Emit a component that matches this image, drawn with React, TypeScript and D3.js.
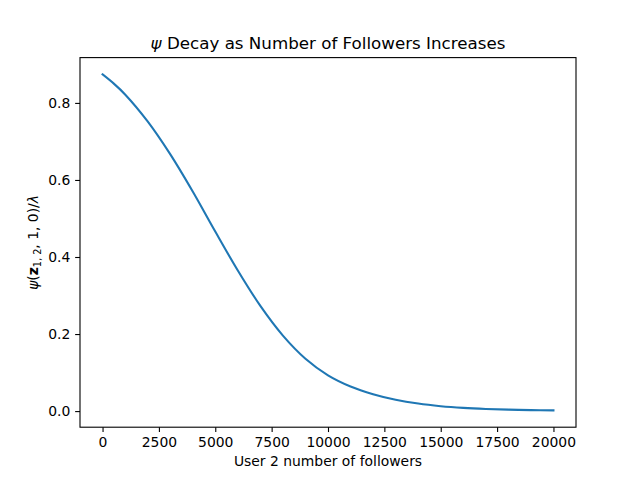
import { useEffect, useRef } from 'react';
import * as d3 from 'd3';

// values
const followers = [
  0, 500, 1000, 2000, 3000, 4000, 5000, 6000, 7000, 8000, 9000, 10000,
  11000, 12000, 13000, 14000, 15000, 16000, 17000, 18000, 19000, 20000,
];
const psiValues = [
  0.874, 0.85, 0.822, 0.752, 0.667, 0.57, 0.466, 0.365, 0.273, 0.196, 0.136, 0.093,
  0.064, 0.044, 0.0295, 0.0195, 0.0128, 0.0084, 0.0056, 0.0038, 0.0026, 0.0018,
];
const xTicks = [0, 2500, 5000, 7500, 10000, 12500, 15000, 17500, 20000];
const yTicks = [0.0, 0.2, 0.4, 0.6, 0.8];

const FONT = '"DejaVu Sans", sans-serif';

export default function App() {
  const svgRef = useRef<SVGSVGElement>(null);

  useEffect(() => {
    if (!svgRef.current) return;
    const width = 640;
    const height = 480;
    const margin = { top: 57.6, right: 64, bottom: 52.8, left: 80 };
    const tick = 4.86;

    const svg = d3.select(svgRef.current);
    svg.selectAll('*').remove();

    const xPad = (d3.max(followers)! - d3.min(followers)!) * 0.05;
    const yMin = d3.min(psiValues)!;
    const yMax = d3.max(psiValues)!;
    const yPad = (yMax - yMin) * 0.05;

    const x = d3
      .scaleLinear()
      .domain([d3.min(followers)! - xPad, d3.max(followers)! + xPad])
      .range([margin.left, width - margin.right]);
    const y = d3
      .scaleLinear()
      .domain([yMin - yPad, yMax + yPad])
      .range([height - margin.bottom, margin.top]);

    svg.append('rect').attr('width', width).attr('height', height).attr('fill', '#fff');

    const points = followers.map((f, i) => [f, psiValues[i]] as [number, number]);
    const line = d3
      .line<[number, number]>()
      .x((d) => x(d[0]))
      .y((d) => y(d[1]))
      .curve(d3.curveCatmullRom.alpha(0.5));

    svg
      .append('path')
      .datum(points)
      .attr('d', line)
      .attr('fill', 'none')
      .attr('stroke', '#1f77b4')
      .attr('stroke-width', 2.08)
      .attr('stroke-linecap', 'square');

    const xAxis = svg
      .append('g')
      .attr('transform', `translate(0, ${height - margin.bottom})`)
      .call(d3.axisBottom(x).tickValues(xTicks).tickSize(tick).tickPadding(tick).tickFormat(d3.format('d')));
    const yAxis = svg
      .append('g')
      .attr('transform', `translate(${margin.left}, 0)`)
      .call(d3.axisLeft(y).tickValues(yTicks).tickSize(tick).tickPadding(tick).tickFormat(d3.format('.1f')));

    [xAxis, yAxis].forEach((g) => {
      g.select('.domain').remove();
      g.selectAll('line').attr('stroke', '#000').attr('stroke-width', 1.1);
      g.selectAll('text').attr('fill', '#000').style('font-size', '13.9px').style('font-family', FONT);
    });

    svg
      .append('rect')
      .attr('x', margin.left)
      .attr('y', margin.top)
      .attr('width', width - margin.left - margin.right)
      .attr('height', height - margin.top - margin.bottom)
      .attr('fill', 'none')
      .attr('stroke', '#000')
      .attr('stroke-width', 1.1);

    // title
    const title = svg
      .append('text')
      .attr('x', (margin.left + width - margin.right) / 2)
      .attr('y', margin.top - 8.3)
      .attr('text-anchor', 'middle')
      .style('font-family', FONT)
      .style('font-size', '16.7px')
      .attr('fill', '#000');
    title.append('tspan').style('font-style', 'italic').text('ψ');
    title.append('tspan').text(' Decay as Number of Followers Increases');

    svg
      .append('text')
      .attr('x', (margin.left + width - margin.right) / 2)
      .attr('y', 466)
      .attr('text-anchor', 'middle')
      .style('font-family', FONT)
      .style('font-size', '13.9px')
      .attr('fill', '#000')
      .text('User 2 number of followers');

    const yl = svg
      .append('text')
      .attr('transform', `translate(38, ${(margin.top + height - margin.bottom) / 2}) rotate(-90)`)
      .attr('text-anchor', 'middle')
      .style('font-family', FONT)
      .style('font-size', '13.9px')
      .attr('fill', '#000');
    yl.append('tspan').style('font-style', 'italic').text('ψ');
    yl.append('tspan').text('(');
    yl.append('tspan').style('font-weight', 'bold').text('z');
    yl.append('tspan').attr('dy', 3).style('font-size', '9.7px').text('1, 2');
    yl.append('tspan').attr('dy', -3).text(', 1, 0)/');
    yl.append('tspan').style('font-style', 'italic').text('λ');
  }, []);

  return (
    <svg
      ref={svgRef}
      width={640}
      height={480}
      style={{ position: 'absolute', left: 0, top: 0, display: 'block' }}
    />
  );
}
